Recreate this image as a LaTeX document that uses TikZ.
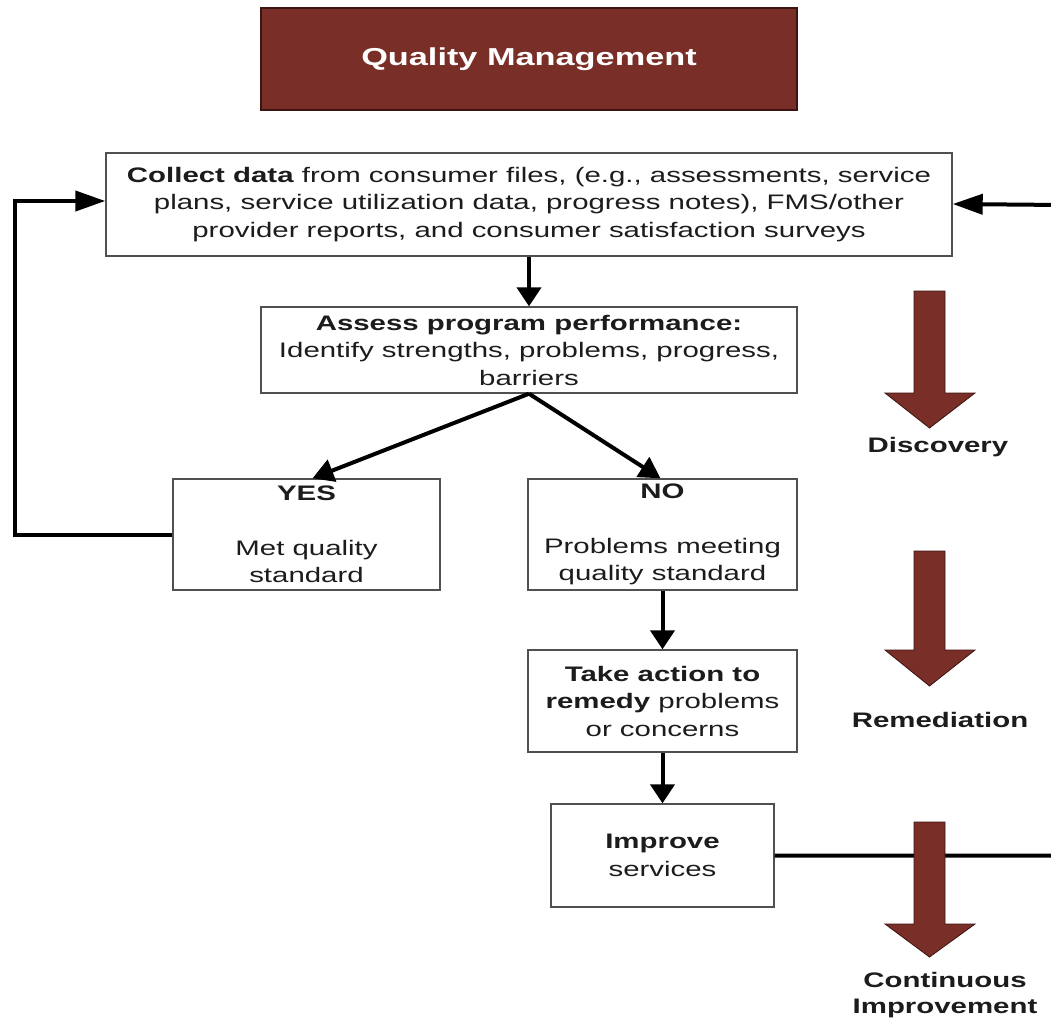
\documentclass[tikz,border=0pt]{standalone}
\usepackage{fontspec}
\setmainfont{Liberation Sans}[FakeStretch=1.4]
\usetikzlibrary{arrows.meta,calc}
\definecolor{qmbrown}{HTML}{7A2E28}
\definecolor{qmdark}{HTML}{3C1512}
\definecolor{boxline}{HTML}{505050}
\definecolor{txt}{HTML}{1C1C1C}
\tikzset{
  body/.style={font=\fontsize{21}{27.5}\selectfont, text=txt},
  stepbox/.style={draw=boxline, line width=1.4pt, fill=white, inner sep=0pt, align=center, body},
  conn/.style={draw=black, line width=4pt},
  varrow/.style={conn, -{Triangle[length=19pt,width=24pt]}},
  harrow/.style={conn, -{Triangle[length=30pt,width=20pt]}},
  darrow/.style={conn, -{Triangle[length=21pt,width=23pt]}},
  phase/.style={fill=qmbrown, draw=qmdark, line width=0.8pt},
  phaselabel/.style={font=\bfseries\fontsize{21}{26}\selectfont, text=txt, align=center}
}
\begin{document}
\begin{tikzpicture}[x=1pt,y=-1pt]
\useasboundingbox (0,0) rectangle (1051,1023);
% title
\node[fill=qmbrown, draw=qmdark, line width=1.4pt, minimum width=536pt, minimum height=102pt, inner sep=0pt,
      text=white, font=\bfseries\fontsize{24.5}{29}\selectfont] (title) at (529,59) {Quality Management};
% boxes
\node[stepbox, minimum width=846pt, minimum height=103pt] (collect) at (529,204.5)
  {\textbf{Collect data} from consumer files, (e.g., assessments, service\\
   plans, service utilization data, progress notes), FMS/other\\
   provider reports, and consumer satisfaction surveys};
\node[stepbox, minimum width=536pt, minimum height=86pt] (assess) at (529,350)
  {\textbf{Assess program performance:}\\ Identify strengths, problems, progress,\\ barriers};
\node[stepbox, minimum width=267pt, minimum height=111pt] (yes) at (306.5,534.5)
  {\textbf{YES}\\ \mbox{}\\ Met quality\\ standard};
\node[stepbox, minimum width=269pt, minimum height=111pt] (no) at (662.5,534.5)
  {\textbf{NO}\\ \mbox{}\\ Problems meeting\\ quality standard};
\node[stepbox, minimum width=269pt, minimum height=102pt] (take) at (662.5,701)
  {\textbf{Take action to}\\ \textbf{remedy} problems\\ or concerns};
\node[stepbox, minimum width=223pt, minimum height=103pt] (improve) at (662.5,855.5)
  {\textbf{Improve}\\ services};
% connectors
\draw[varrow] (collect.south) -- (assess.north);
\draw[darrow] (assess.south) -- ([xshift=6pt]yes.north);
\draw[darrow] (assess.south) -- ([xshift=-2pt]no.north);
\draw[varrow] (no.south) -- (take.north);
\draw[varrow] (take.south) -- (improve.north);
\coordinate (lp) at (15,534.5);
\draw[harrow] (yes.west) -- (lp) |- ([yshift=3.5pt]collect.west);
\coordinate (rp1) at (1062,855.5);
\coordinate (rp2) at (1062,205);
\draw[harrow] (improve.east) -- (rp1) -- (rp2) -- ([yshift=0.5pt]collect.east);
% phase arrows
\draw[phase] (914,291) -- (945,291) -- (945,393) -- (975,393) -- (929.5,428) -- (885,393) -- (914,393) -- cycle;
\node[phaselabel] (disc) at (938,447) {Discovery};
\draw[phase] (914,551) -- (945,551) -- (945,650) -- (975,650) -- (929.5,686) -- (885,650) -- (914,650) -- cycle;
\node[phaselabel] (remed) at (940,720) {Remediation};
\draw[phase] (914,822) -- (945,822) -- (945,924) -- (975,924) -- (929.5,957) -- (885,924) -- (914,924) -- cycle;
\node[phaselabel] (cont) at (945,995) {Continuous\\ Improvement};
\end{tikzpicture}
\end{document}
